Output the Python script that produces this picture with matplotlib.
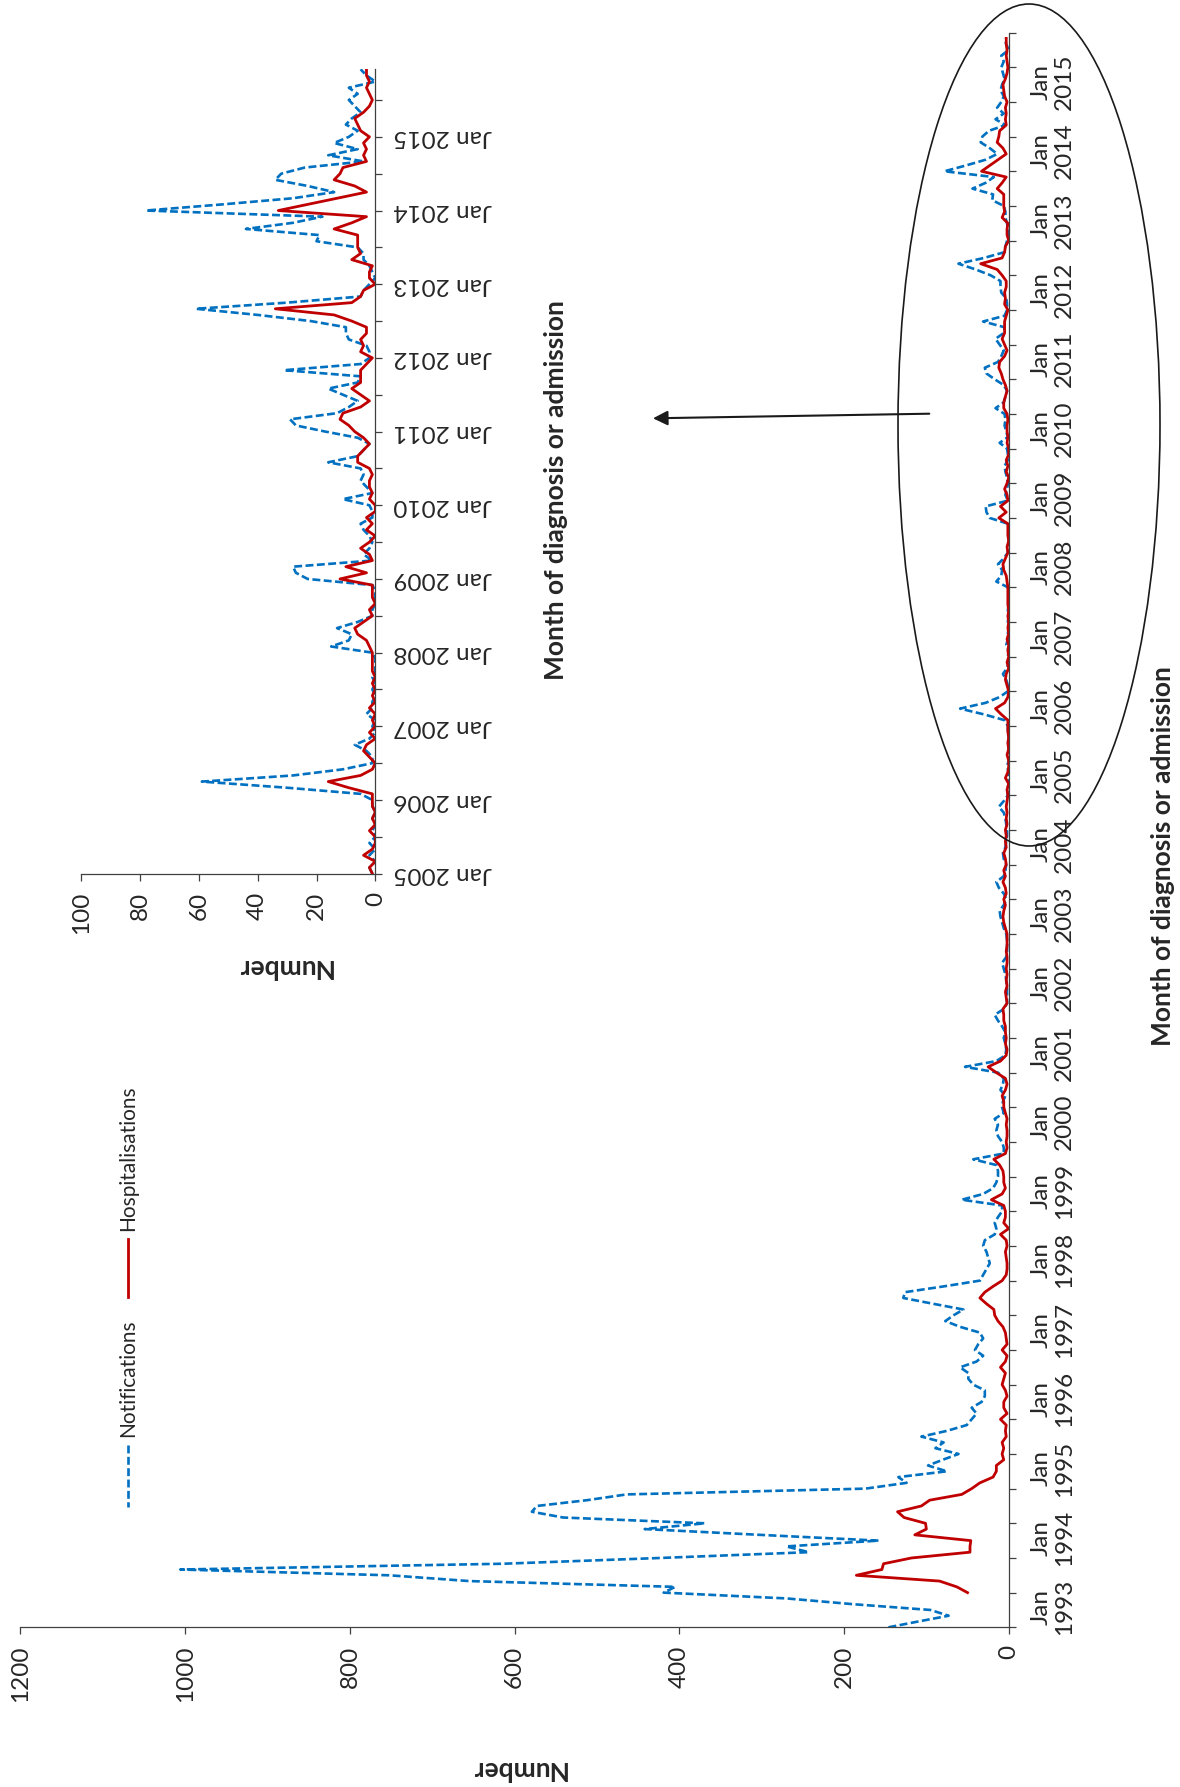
import numpy as np
import matplotlib
matplotlib.use('Agg')
import matplotlib.pyplot as plt
from matplotlib.patches import Ellipse
from matplotlib.lines import Line2D

plt.rcParams['font.family'] = ['Lato', 'DejaVu Sans']

# Monthly counts. Notifications start Jan 1993,
# hospitalisations start Jul 1993.
first_year = 1993
hosp_offset = 6   # months after Jan 1993

notifications_1993_2004 = [
    146, 110, 73, 95, 189, 270, 419, 405, 655, 752, 1006, 614,
    423, 243, 270, 158, 302, 442, 369, 541, 579, 573, 512, 464,
    174, 124, 134, 75, 98, 80, 61, 89, 79, 106, 75, 51,
    45, 39, 45, 33, 29, 29, 43, 49, 49, 59, 39, 31,
    41, 37, 31, 35, 59, 77, 67, 55, 92, 128, 126, 79,
    35, 31, 27, 23, 25, 27, 31, 29, 17, 15, 17, 13,
    8, 8, 57, 31, 19, 15, 13, 13, 15, 43, 6, 6,
    8, 13, 15, 13, 17, 6, 8, 7, 4, 10, 7, 6,
    13, 53, 15, 4, 3, 4, 6, 4, 8, 13, 17, 6,
    2, 2, 2, 2, 3, 4, 6, 8, 3, 2, 2, 2,
    3, 6, 8, 10, 11, 6, 3, 6, 12, 15, 6, 4,
    3, 6, 7, 4, 3, 2, 2, 3, 4, 6, 12, 6,
]
notifications_2005_2015 = [
    1, 2, 0, 2, 0, 2, 0, 1, 0, 1, 0, 1,
    1, 5, 30, 59, 28, 11, 1, 1, 3, 7, 2, 0,
    1, 0, 3, 1, 1, 0, 1, 0, 1, 0, 0, 0,
    1, 15, 9, 8, 13, 6, 1, 1, 0, 0, 0, 1,
    23, 27, 28, 1, 4, 2, 1, 2, 4, 5, 1, 1,
    2, 11, 1, 3, 5, 4, 5, 16, 6, 4, 2, 6,
    17, 27, 29, 13, 9, 6, 11, 16, 6, 5, 31, 5,
    2, 2, 3, 9, 10, 10, 22, 40, 61, 30, 5, 4,
    2, 0, 1, 2, 4, 4, 6, 20, 19, 44, 28, 18,
    78, 52, 28, 14, 23, 34, 32, 24, 4, 16, 6, 14,
    9, 6, 10, 8, 5, 7, 9, 6, 9, 0, 3, 5,
]
hospitalisations_1993_2004 = [
    50, 63, 84, 185, 154, 152,
    118, 47, 47, 46, 114, 100, 101, 127, 135, 106, 96, 57,
    45, 35, 19, 15, 15, 6, 8, 6, 8, 3, 4, 3,
    10, 2, 6, 6, 2, 4, 8, 6, 4, 10, 4, 2,
    8, 2, 3, 4, 7, 13, 17, 18, 27, 35, 29, 19,
    8, 3, 2, 2, 3, 4, 2, 3, 10, 0, 6, 4,
    4, 6, 21, 8, 4, 6, 6, 7, 11, 18, 4, 2,
    3, 2, 2, 3, 2, 4, 6, 6, 8, 4, 2, 4,
    15, 25, 10, 3, 2, 4, 3, 4, 4, 6, 6, 7,
    2, 3, 4, 2, 3, 2, 3, 2, 2, 3, 2, 2,
    2, 4, 6, 7, 6, 4, 6, 3, 4, 7, 4, 6,
    3, 4, 6, 3, 4, 3, 4, 2, 3, 2, 3, 2,
]
hospitalisations_2005_2015 = [
    1, 2, 0, 4, 1, 0, 0, 2, 0, 1, 0, 1,
    1, 1, 9, 16, 5, 1, 0, 2, 4, 3, 0, 2,
    0, 1, 0, 2, 0, 1, 0, 1, 0, 1, 1, 1,
    1, 2, 3, 6, 7, 4, 1, 2, 0, 1, 1, 1,
    12, 3, 10, 1, 2, 5, 2, 0, 3, 1, 3, 0,
    0, 2, 1, 2, 2, 1, 2, 6, 6, 4, 2, 4,
    7, 9, 12, 11, 5, 2, 5, 8, 5, 5, 5, 3,
    1, 5, 4, 5, 3, 3, 8, 14, 34, 8, 5, 4,
    0, 2, 2, 1, 8, 5, 6, 6, 6, 14, 8, 3,
    33, 23, 13, 3, 7, 14, 12, 11, 3, 4, 3, 4,
    2, 5, 6, 7, 4, 2, 1, 2, 3, 2, 3, 3,
]

main_ticks_value = [0, 200, 400, 600, 800, 1000, 1200]
inset_ticks_value = [0, 20, 40, 60, 80, 100]
main_years = list(range(1993, 2016))
inset_years = list(range(2005, 2016))

BLUE = '#0070C0'
RED = '#C00000'
AXC = '#404040'
TXT = '#262626'
TICK_FS = 17.5

notif = np.array(notifications_1993_2004 + notifications_2005_2015, float)
hosp = np.array(hospitalisations_1993_2004 + hospitalisations_2005_2015, float)
m_notif = np.arange(len(notif))
m_hosp = np.arange(len(hosp)) + hosp_offset
inset_start = (2005 - first_year) * 12

W, H = 1180, 1787
fig = plt.figure(figsize=(W / 100, H / 100), dpi=100)


def px_axes(x0, y0, x1, y1, **kw):
    return fig.add_axes([x0 / W, 1 - y1 / H, (x1 - x0) / W, (y1 - y0) / H], **kw)


def style_axes(ax):
    for s in ('top', 'left'):
        ax.spines[s].set_visible(False)
    for s in ('bottom', 'right'):
        ax.spines[s].set_color(AXC)
        ax.spines[s].set_linewidth(0.9)
    ax.yaxis.tick_right()
    ax.tick_params(axis='both', which='both', direction='out', color=AXC,
                   width=0.9, length=5)
    ax.tick_params(axis='x', labelrotation=90, labelsize=TICK_FS,
                   labelcolor=TXT, pad=8)


# ---- main chart (drawn turned on its side) ----
ax = px_axes(20.5, 32.6, 1008.7, 1627.3)
ax.plot(notif, m_notif, color=BLUE, lw=1.9, dashes=(3, 1.3))
ax.plot(hosp, m_hosp, color=RED, lw=2.0)
ax.set_xlim(1200, 0)
ax.set_ylim(0, 276)
style_axes(ax)
ax.set_xticks(main_ticks_value)
ax.set_yticks(np.arange(0, 277, 6))
ax.set_yticklabels([])
for k, yr in enumerate(main_years):
    ax.text((1053 - 20.5) / 988.2, 12 * k + 3.5, f'Jan\n{yr}',
            transform=ax.get_yaxis_transform(), rotation=90, ha='center',
            va='center', multialignment='center', linespacing=1.12,
            fontsize=TICK_FS, color=TXT)

# ---- inset 2005-2015 ----
ins = px_axes(81.3, 69.3, 375.3, 873.7)
ins.plot(notif[inset_start:], m_notif[inset_start:], color=BLUE, lw=1.9, dashes=(3, 1.3))
sel = m_hosp >= inset_start
ins.plot(hosp[sel], m_hosp[sel], color=RED, lw=2.0)
ins.set_xlim(100, 0)
ins.set_ylim(inset_start, inset_start + 131)
style_axes(ins)
ins.set_xticks(inset_ticks_value)
ins.set_yticks([inset_start + 12 * k for k in range(len(inset_years))])
ins.set_yticks([inset_start + 6 + 12 * k for k in range(len(inset_years))], minor=True)
ins.set_yticklabels([])
for k, yr in enumerate(inset_years):
    ins.text((393 - 81.3) / 294, inset_start + 12 * k, f'Jan {yr}',
             transform=ins.get_yaxis_transform(), rotation=180, ha='left',
             va='center', fontsize=TICK_FS, color=TXT)

# ---- overlay: labels, legend, ellipse, arrow ----
ov = fig.add_axes([0, 0, 1, 1], zorder=5)
ov.set_xlim(0, W)
ov.set_ylim(H, 0)
ov.axis('off')
ov.patch.set_alpha(0)

lab = dict(fontsize=19, fontweight='bold', color=TXT, ha='center', va='center')
ov.text(518, 1769, 'Number', rotation=180, **lab)
ov.text(1163, 856, 'Month of diagnosis or admission', rotation=90, **lab)
ov.text(284, 967, 'Number', rotation=180, **lab)
ov.text(556, 490, 'Month of diagnosis or admission', rotation=90, **lab)

# legend (vertical, so built by hand)
ov.add_line(Line2D([128, 128], [1445, 1507], color=BLUE, lw=1.9, dashes=(3, 1.3)))
ov.add_line(Line2D([128, 128], [1239, 1297], color=RED, lw=2.0))
ov.text(128, 1437, 'Notifications', rotation=90, ha='center', va='bottom',
        fontsize=15, color=TXT)
ov.text(128, 1231, 'Hospitalisations', rotation=90, ha='center', va='bottom',
        fontsize=15, color=TXT)

ov.add_patch(Ellipse((1029, 425), 262, 842, fill=False, lw=1.2, ec='#1a1a1a'))
ov.annotate('', xy=(653, 418.3), xytext=(929.3, 413.7),
            arrowprops=dict(arrowstyle='-|>', lw=1.5, color='#1a1a1a',
                            mutation_scale=22, shrinkA=0, shrinkB=0))

fig.savefig('out.png', dpi=100)
